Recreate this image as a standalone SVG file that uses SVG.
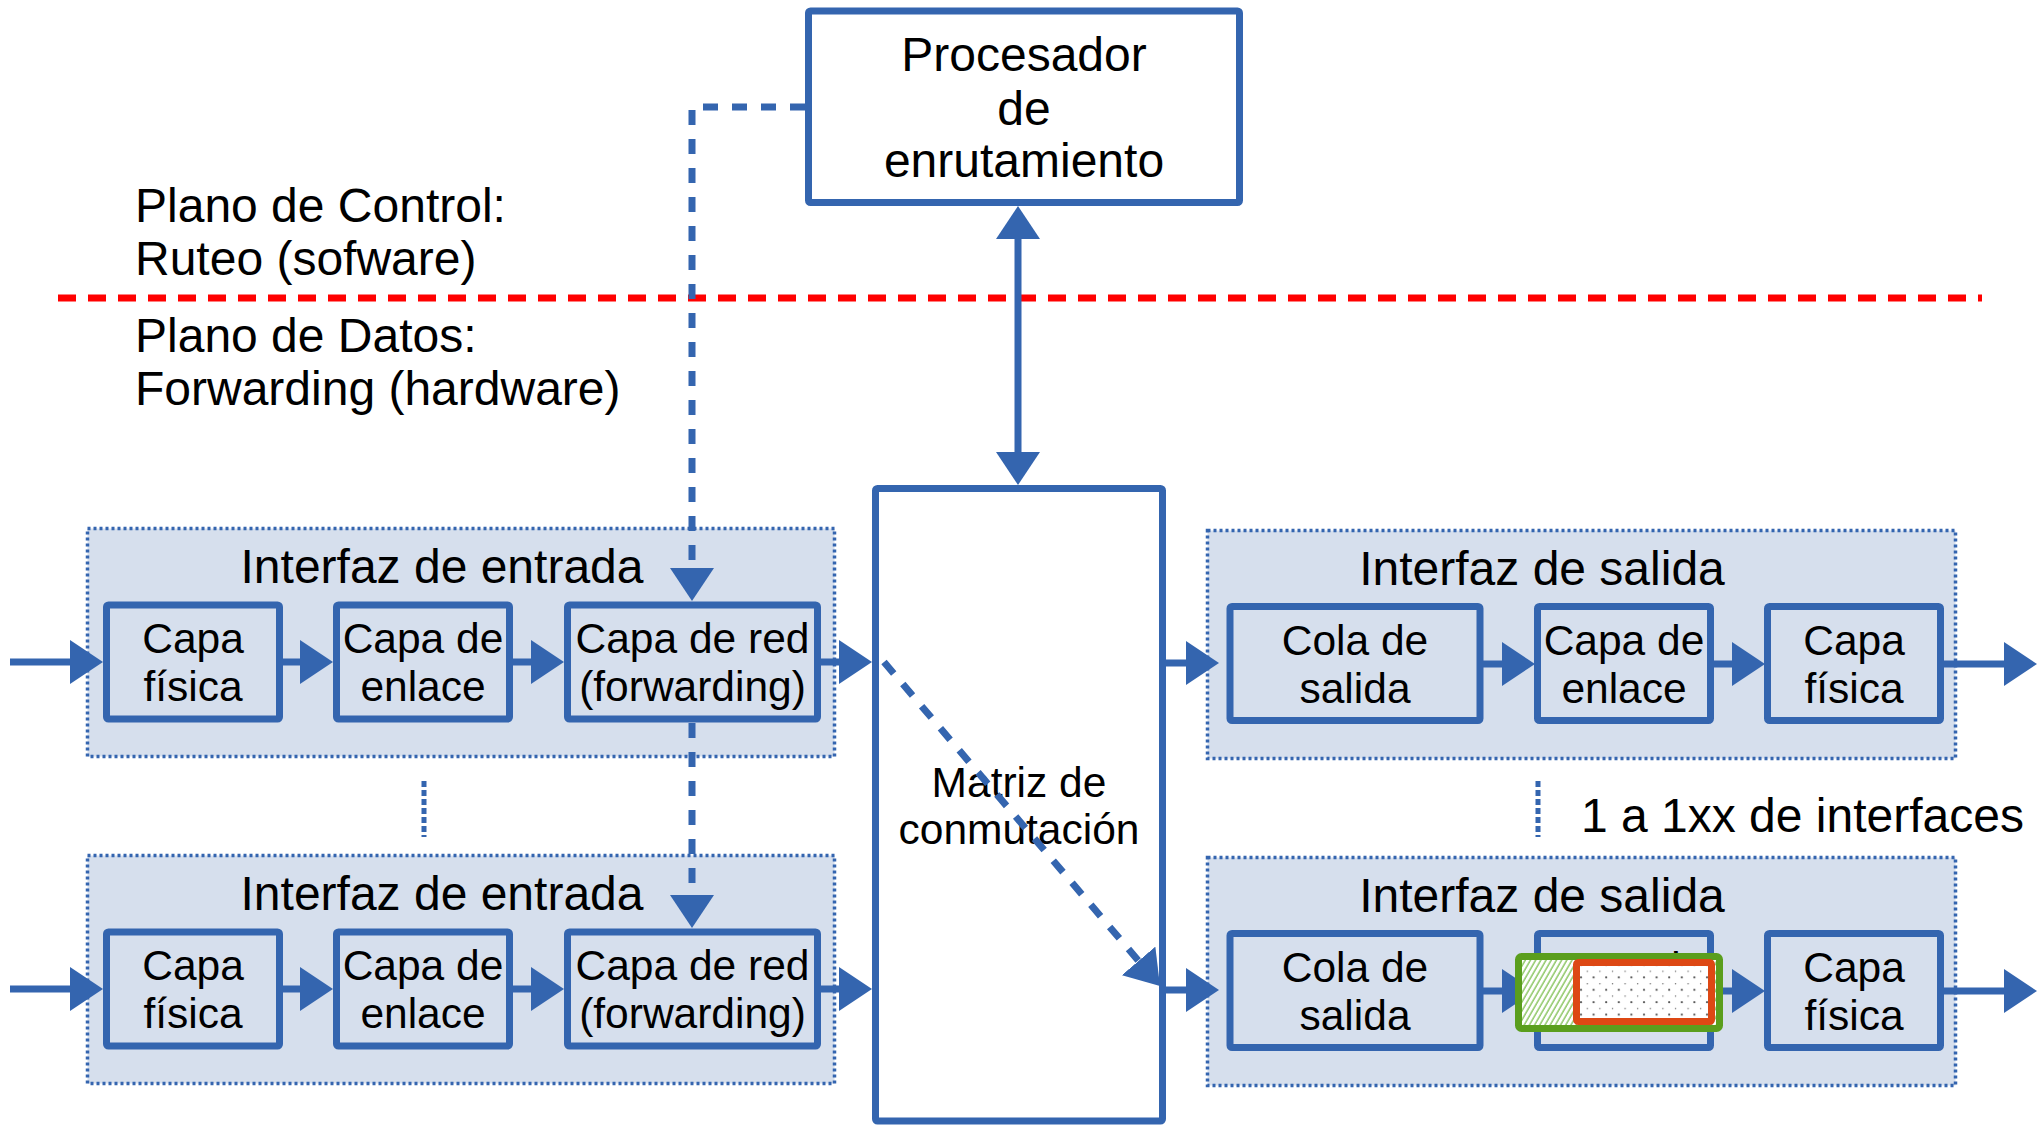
<svg xmlns="http://www.w3.org/2000/svg" width="2040" height="1125" viewBox="0 0 2040 1125">
<style>
text{font-family:"Liberation Sans",Arial,sans-serif;fill:#000}
.big{font-size:48px}
.med{font-size:42.5px}
.mid{text-anchor:middle}
.cont{fill:#D6DFED;stroke:#3465AF;stroke-width:3.5;stroke-dasharray:3 3}
.box{fill:#D6DFED;stroke:#3465AF;stroke-width:7}
.wbox{fill:#FFFFFF;stroke:#3465AF;stroke-width:7}
.conn{fill:none;stroke:#3465AF;stroke-width:7}
.arr{marker-end:url(#ah)}
.dash{stroke-dasharray:15 14}
.sep{fill:none;stroke:#3465AF;stroke-width:5;stroke-dasharray:6 3}
</style>
<defs>
<marker id="ah" markerUnits="userSpaceOnUse" markerWidth="33" markerHeight="44" refX="23" refY="22" orient="auto-start-reverse">
<path d="M0,0 L33,22 L0,44 Z" fill="#3465AF"/>
</marker>
<pattern id="hatch" patternUnits="userSpaceOnUse" width="4.5" height="4.5" patternTransform="rotate(30)">
<rect width="4.5" height="4.5" fill="#FFFFFF"/>
<line x1="1" y1="0" x2="1" y2="4.5" stroke="#7DBE4F" stroke-width="1.3"/>
</pattern>
<pattern id="dots" patternUnits="userSpaceOnUse" x="1578" y="962" width="12.6" height="12.4">
<rect width="12.6" height="12.4" fill="#FFFFFF"/>
<circle cx="3" cy="3" r="1.1" fill="#555555"/>
<circle cx="9.3" cy="9.2" r="0.7" fill="#666666"/>
</pattern>
</defs>

<rect width="2040" height="1125" fill="#FFFFFF"/>

<g id="labels">
<text class="big" x="135" y="222">Plano de Control:</text>
<text class="big" x="135" y="275">Ruteo (sofware)</text>
<text class="big" x="135" y="352">Plano de Datos:</text>
<text class="big" x="135" y="405">Forwarding (hardware)</text>
<text class="big" x="1581" y="832">1 a 1xx de interfaces</text>
<line x1="58" y1="298" x2="1982" y2="298" stroke="#FF0000" stroke-width="7" stroke-dasharray="18 12"/>
<line class="sep" x1="424" y1="781" x2="424" y2="837"/>
<line class="sep" x1="1538" y1="781" x2="1538" y2="837"/>
</g>

<g id="procesador">
<rect class="wbox" x="808.5" y="11" width="431" height="191.5" rx="2"/>
<text class="big mid" x="1024" y="71">Procesador</text>
<text class="big mid" x="1024" y="125">de</text>
<text class="big mid" x="1024" y="177">enrutamiento</text>
</g>

<g id="matriz">
<rect class="wbox" x="875.5" y="488.5" width="287" height="632.5" rx="2"/>
<text class="med mid" x="1019" y="797">Matriz de</text>
<text class="med mid" x="1019" y="844">conmutación</text>
</g>

<g id="entrada1">
<rect class="cont" x="87.5" y="528.5" width="747" height="228"/>
<text class="big mid" x="442" y="583">Interfaz de entrada</text>
<g id="e1-fisica"><rect class="box" x="106.5" y="605" width="173" height="114" rx="2"/><text class="med mid" x="193" y="653">Capa</text><text class="med mid" x="193" y="701">física</text></g>
<g id="e1-enlace"><rect class="box" x="336.5" y="605" width="173" height="114" rx="2"/><text class="med mid" x="423" y="653">Capa de</text><text class="med mid" x="423" y="701">enlace</text></g>
<g id="e1-red"><rect class="box" x="567.5" y="605" width="250" height="114" rx="2"/><text class="med mid" x="692.5" y="653">Capa de red</text><text class="med mid" x="692.5" y="701">(forwarding)</text></g>
</g>

<g id="entrada2">
<rect class="cont" x="87.5" y="855.5" width="747" height="228"/>
<text class="big mid" x="442" y="910">Interfaz de entrada</text>
<g id="e2-fisica"><rect class="box" x="106.5" y="932" width="173" height="114" rx="2"/><text class="med mid" x="193" y="980">Capa</text><text class="med mid" x="193" y="1028">física</text></g>
<g id="e2-enlace"><rect class="box" x="336.5" y="932" width="173" height="114" rx="2"/><text class="med mid" x="423" y="980">Capa de</text><text class="med mid" x="423" y="1028">enlace</text></g>
<g id="e2-red"><rect class="box" x="567.5" y="932" width="250" height="114" rx="2"/><text class="med mid" x="692.5" y="980">Capa de red</text><text class="med mid" x="692.5" y="1028">(forwarding)</text></g>
</g>

<g id="salida1">
<rect class="cont" x="1207.5" y="530.5" width="748" height="228"/>
<text class="big mid" x="1542" y="585">Interfaz de salida</text>
<g id="s1-cola"><rect class="box" x="1230" y="606.5" width="250" height="114" rx="2"/><text class="med mid" x="1355" y="655">Cola de</text><text class="med mid" x="1355" y="703">salida</text></g>
<g id="s1-enlace"><rect class="box" x="1537.5" y="606.5" width="173" height="114" rx="2"/><text class="med mid" x="1624" y="655">Capa de</text><text class="med mid" x="1624" y="703">enlace</text></g>
<g id="s1-fisica"><rect class="box" x="1767.5" y="606.5" width="173" height="114" rx="2"/><text class="med mid" x="1854" y="655">Capa</text><text class="med mid" x="1854" y="703">física</text></g>
</g>

<g id="salida2">
<rect class="cont" x="1207.5" y="857.5" width="748" height="228"/>
<text class="big mid" x="1542" y="912">Interfaz de salida</text>
<g id="s2-cola"><rect class="box" x="1230" y="933.5" width="250" height="114" rx="2"/><text class="med mid" x="1355" y="982">Cola de</text><text class="med mid" x="1355" y="1030">salida</text></g>
<g id="s2-enlace"><rect class="box" x="1537.5" y="933.5" width="173" height="114" rx="2"/><text class="med mid" x="1624" y="982">Capa de</text><text class="med mid" x="1624" y="1030">enlace</text></g>
<g id="s2-fisica"><rect class="box" x="1767.5" y="933.5" width="173" height="114" rx="2"/><text class="med mid" x="1854" y="982">Capa</text><text class="med mid" x="1854" y="1030">física</text></g>
</g>

<g id="connectors">
<path class="conn arr" d="M10,662 H93"/>
<path class="conn arr" d="M283,662 H323"/>
<path class="conn arr" d="M513,662 H554"/>
<path class="conn arr" d="M821,662 H862"/>
<path class="conn arr" d="M10,989 H93"/>
<path class="conn arr" d="M283,989 H323"/>
<path class="conn arr" d="M513,989 H554"/>
<path class="conn arr" d="M821,989 H862"/>
<path class="conn arr" d="M1166,663 H1209"/>
<path class="conn arr" d="M1483,664 H1525"/>
<path class="conn arr" d="M1714,664 H1755"/>
<path class="conn arr" d="M1944,664 H2027"/>
<path class="conn arr" d="M1166,990 H1209"/>
<path class="conn arr" d="M1483,991 H1525"/>
<path class="conn arr" d="M1714,991 H1755"/>
<path class="conn arr" d="M1944,991 H2027"/>
<path class="conn arr" d="M1018,216 V475" marker-start="url(#ah)"/>
<path class="conn dash arr" d="M805,107 H692 V591"/>
<path class="conn dash arr" d="M692,723 V918"/>
<path class="conn dash arr" d="M884,662 L1153.5,978.4"/>
</g>

<g id="icono">
<rect x="1518.5" y="956.5" width="201" height="72" rx="3" fill="url(#hatch)" stroke="#5A9E1D" stroke-width="7"/>
<rect x="1576.5" y="962.5" width="135" height="59" rx="2" fill="url(#dots)" stroke="#DD4814" stroke-width="7"/>
</g>
</svg>
